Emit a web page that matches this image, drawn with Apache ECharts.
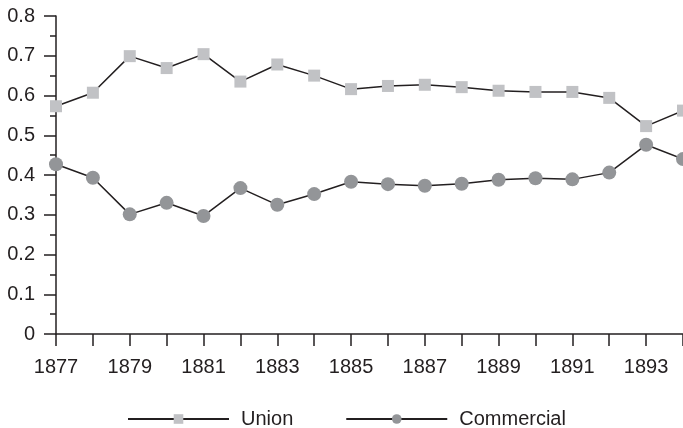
<!DOCTYPE html>
<html><head><meta charset="utf-8">
<script src="https://cdn.jsdelivr.net/npm/echarts@6/dist/echarts.min.js"></script>
<style>html,body{margin:0;padding:0;background:#fff}#c{width:683px;height:428px}</style>
</head><body><div id="c"></div>
<script>
const years = ['1877','1878','1879','1880','1881','1882','1883','1884','1885','1886','1887','1888','1889','1890','1891','1892','1893','1894'];
const union = [0.573,0.607,0.699,0.669,0.704,0.635,0.678,0.650,0.616,0.624,0.627,0.621,0.612,0.609,0.609,0.594,0.523,0.562];
const commercial = [0.427,0.393,0.301,0.330,0.297,0.367,0.325,0.352,0.383,0.377,0.373,0.378,0.388,0.392,0.389,0.406,0.476,0.440];
const yTicks = [0,0.1,0.2,0.3,0.4,0.5,0.6,0.7,0.8];

const dark = '#231f20';
const font = 'Liberation Sans, Arial, sans-serif';
const chart = echarts.init(document.getElementById('c'));
chart.setOption({
  animation: false,
  backgroundColor: '#fff',
  grid: {left: 56, top: 16, width: 628, height: 318, containLabel: false},
  legend: {
    left: 122, top: 404, itemWidth: 101, itemHeight: 12, itemGap: 52,
    textStyle: {fontFamily: font, fontSize: 20, color: dark, padding: [0,0,0,7]},
    data: ['Union','Commercial']
  },
  xAxis: {
    type: 'category', data: years, boundaryGap: false,
    axisLine: {lineStyle: {color: dark, width: 1.5}},
    axisTick: {show: true, interval: 0, length: 12, lineStyle: {color: dark, width: 1.5}},
    axisLabel: {interval: 1, margin: 23, color: dark, fontFamily: font, fontSize: 20},
    splitLine: {show: false}
  },
  yAxis: {
    type: 'value', min: yTicks[0], max: yTicks[yTicks.length-1], interval: 0.1,
    axisLine: {show: true, lineStyle: {color: dark, width: 1.5}},
    axisTick: {show: true, length: 12, lineStyle: {color: dark, width: 1.5}},
    minorTick: {show: true, splitNumber: 2, length: 6, lineStyle: {color: dark, width: 1.5}},
    axisLabel: {margin: 21, color: dark, fontFamily: font, fontSize: 20},
    splitLine: {show: false}
  },
  series: [
    {name: 'Union', type: 'line', data: union, symbol: 'rect', symbolSize: 12,
     clip: false,
     itemStyle: {color: '#c1c2c5'}, lineStyle: {color: dark, width: 1.5}},
    {name: 'Commercial', type: 'line', data: commercial, symbol: 'circle', symbolSize: 14,
     clip: false,
     itemStyle: {color: '#939598'}, lineStyle: {color: dark, width: 1.5}}
  ]
});
</script></body></html>
